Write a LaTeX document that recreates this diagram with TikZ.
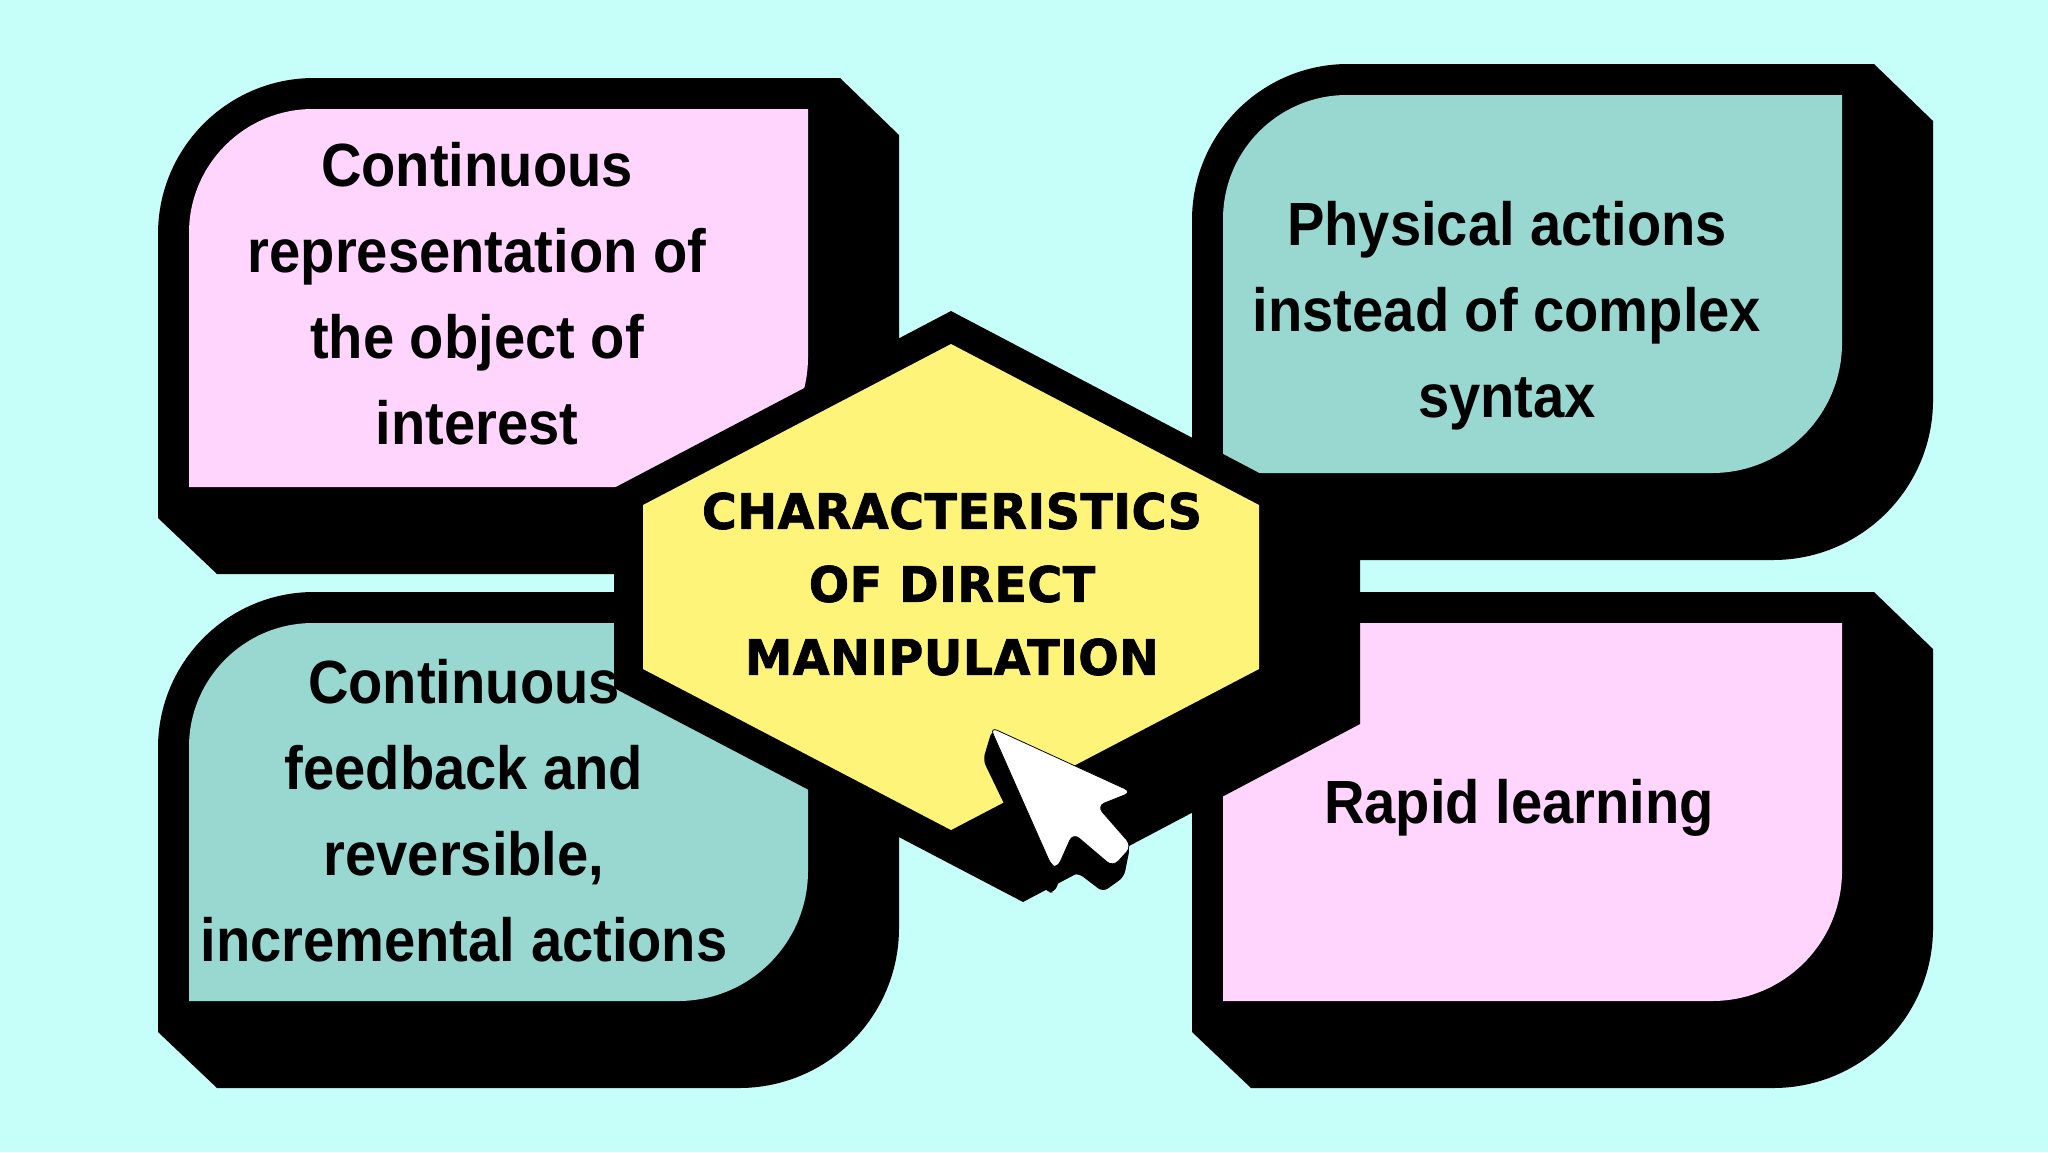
\documentclass[tikz,border=0pt]{standalone}
\usepackage{fontspec}
\setmainfont[FakeStretch=0.92]{Liberation Sans}
\newfontfamily\titlefont[FakeStretch=0.97,FakeBold=1.5,LetterSpace=1]{DejaVu Sans}
\definecolor{bgcyan}{HTML}{C6FFF9}
\definecolor{cardpink}{HTML}{FFD4FD}
\definecolor{cardteal}{HTML}{99D8D1}
\definecolor{hexyellow}{HTML}{FFF47A}
\tikzset{
    cardtext/.style={align=center, text=black, inner sep=0pt, font=\fontsize{30.5}{43}\selectfont\bfseries},
    titletext/.style={align=center, text=black, inner sep=0pt, font=\titlefont\fontsize{24.5}{36.5}\selectfont\bfseries}
}
% back shape and face of one card, #1 #2 = corner, #3 = colour
\newcommand{\cardbox}[3]{
    \begin{scope}[shift={(#1,#2)}]
        \fill[black] (0,440) [rounded corners=78pt] -- (0,0) [sharp corners] -- (682,0) -- (741,57)
            [rounded corners=80pt] -- (741,496) [sharp corners] -- (59,496) -- cycle;
        \fill[#3] (31,409) [rounded corners=62pt] -- (31,31) [sharp corners] -- (650,31)
            [rounded corners=65pt] -- (650,409) [sharp corners] -- cycle;
    \end{scope}
}
\begin{document}
\begin{tikzpicture}[x=0.5pt, y=-0.5pt]
    \useasboundingbox (0,0) rectangle (2048,1152);
    \fill[bgcyan] (0,0) rectangle (2048,1152);

    % Cards
    \cardbox{158}{78}{cardpink}
    \cardbox{1192}{64}{cardteal}
    \cardbox{158}{592}{cardteal}
    \cardbox{1192}{592}{cardpink}

    % Hexagon
    \fill[black] (951,311) -- (1360,526) -- (1360,724) -- (1023,902) -- (614,688) -- (614,488) -- cycle;
    \fill[hexyellow] (951,344) -- (1259,505) -- (1259,669) -- (951,830) -- (643,669) -- (643,505) -- cycle;

    % Cursor
    \fill[black, rounded corners=3pt] (992,730) -- (983,760) -- (1047,893) -- (1055,892) -- (1060,878)
        -- (1078,873) -- (1103,892) -- (1124,877) -- (1130,847) -- (1073,800) -- cycle;
    \fill[white, draw=black, line width=0.4pt, rounded corners=4pt] (990,727) -- (1132,792) -- (1097,806) -- (1132,846)
        -- (1113,867) -- (1073,833) -- (1057,869) -- (1052,867) -- cycle;

    % Texts
    \node[cardtext] (interest) at (477,294) {Continuous\\representation of\\the object of\\interest};
    \node[cardtext] (physical) at (1507,316) {Physical actions\\instead of complex\\syntax};
    \node[cardtext] (feedback) at (464,811) {Continuous\\feedback and\\reversible,\\incremental actions};
    \node[cardtext] (rapid) at (1519,808) {Rapid learning};
    \node[titletext] (title) at (952,584) {CHARACTERISTICS\\OF DIRECT\\MANIPULATION};
\end{tikzpicture}
\end{document}
